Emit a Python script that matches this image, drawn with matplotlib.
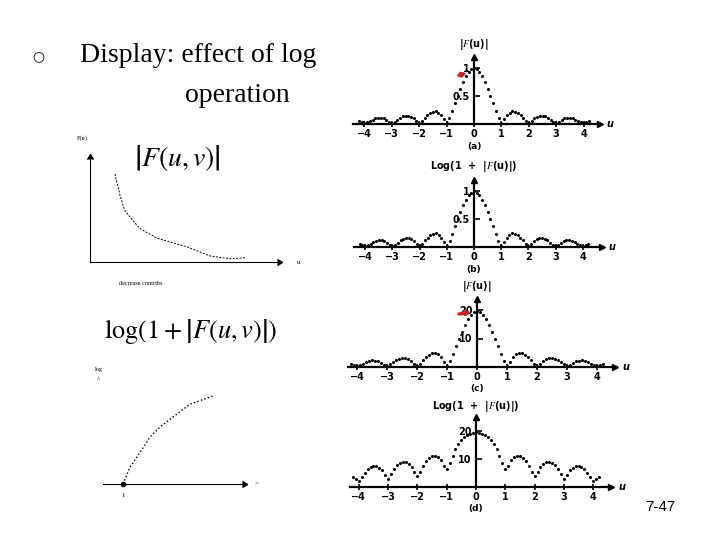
import matplotlib.pyplot as plt
import numpy as np

W, H = 720, 540

# sample positions (u = 0 .. 4.2) for the dotted spectra, mirrored for u < 0
u_half = np.round(np.arange(0, 4.25, 0.1), 1)

# (a) |F(u)|
fa_half = [1.0, 0.98, 0.93, 0.85, 0.75, 0.63, 0.50, 0.37, 0.24, 0.11, 0.01,
           0.09, 0.16, 0.20, 0.23, 0.22, 0.20, 0.16, 0.11, 0.06, 0.01,
           0.05, 0.10, 0.13, 0.15, 0.15, 0.14, 0.11, 0.08, 0.04, 0.01,
           0.04, 0.07, 0.10, 0.11, 0.11, 0.10, 0.08, 0.06, 0.03, 0.01,
           0.03, 0.05]
# (b) Log(1 + |F(u)|), normalised
fb_half = [1.0, 0.98, 0.93, 0.85, 0.75, 0.63, 0.50, 0.37, 0.24, 0.11, 0.01,
           0.09, 0.17, 0.22, 0.25, 0.24, 0.21, 0.17, 0.12, 0.06, 0.01,
           0.06, 0.11, 0.15, 0.17, 0.17, 0.15, 0.12, 0.08, 0.04, 0.01,
           0.04, 0.08, 0.11, 0.12, 0.12, 0.11, 0.09, 0.06, 0.03, 0.01,
           0.03, 0.05]
# (c) |F(u)|, peak 20
fc_half = [19.5, 19.2, 18.3, 16.8, 14.8, 12.4, 9.8, 7.2, 4.7, 2.2, 0.3,
           1.9, 3.4, 4.4, 4.9, 4.8, 4.3, 3.4, 2.4, 1.2, 0.3,
           1.1, 2.0, 2.7, 3.1, 3.2, 2.9, 2.4, 1.7, 0.9, 0.3,
           0.8, 1.5, 2.0, 2.2, 2.3, 2.1, 1.7, 1.2, 0.6, 0.3,
           0.6, 1.0]
# (d) Log(1 + |F(u)|), scaled
fd_half = [19.5, 19.4, 19.1, 18.6, 17.8, 16.8, 15.4, 13.6, 11.2, 8.5, 6.5,
           7.5, 9.5, 10.6, 11.0, 10.9, 10.3, 9.2, 7.6, 5.5, 4.0,
           5.3, 7.2, 8.3, 8.8, 8.9, 8.5, 7.7, 6.4, 4.5, 3.0,
           4.3, 5.9, 6.9, 7.4, 7.5, 7.1, 6.3, 5.0, 3.4, 2.0,
           2.8, 3.5]

# left sketches (normalised axes 0..1)
mag_x = [0.13, 0.156, 0.18, 0.22, 0.26, 0.35, 0.505, 0.625, 0.73, 0.81]
mag_y = [0.815, 0.62, 0.48, 0.39, 0.31, 0.22, 0.14, 0.056, 0.03, 0.04]
log_x = [0.139, 0.1875, 0.278, 0.326, 0.396, 0.486, 0.604, 0.764]
log_y = [0.0, 0.149, 0.316, 0.412, 0.5, 0.588, 0.70, 0.772]

u_ticks = [-4, -3, -2, -1, 0, 1, 2, 3, 4]


def mirror(half):
    half = np.asarray(half, dtype=float)
    return np.concatenate([half[:0:-1], half])


u_full = np.concatenate([-u_half[:0:-1], u_half])

fig = plt.figure(figsize=(W / 100, H / 100), dpi=100)
fig.patch.set_facecolor('white')
plt.rcParams['mathtext.fontset'] = 'stix'


def px_axes(left, top, width, height):
    return fig.add_axes([left / W, 1 - (top + height) / H, width / W, height / H])


def spectrum_panel(vals, x0, sx, y0, sy, xlo, xhi, ytop, yticks, ylabels,
                   title, tag, red_mark=None):
    # x0/y0: pixel of the origin, sx/sy: pixels per data unit
    left = x0 + xlo * sx
    width = (xhi - xlo) * sx
    height = ytop * sy
    ax = px_axes(left, y0 - height, width, height)
    ax.set_xlim(xlo, xhi)
    ax.set_ylim(0, ytop)
    ax.patch.set_alpha(0)
    for s in ['top', 'right']:
        ax.spines[s].set_visible(False)
    ax.spines['left'].set_position(('data', 0))
    ax.spines['bottom'].set_position(('data', 0))
    ax.spines['bottom'].set_linewidth(1.6)
    ax.spines['left'].set_linewidth(1.6)
    ax.set_xticks(u_ticks)
    ax.set_xticklabels([str(t).replace('-', '\u2212') for t in u_ticks],
                       fontsize=7, fontweight='bold', family='DejaVu Sans')
    ax.set_yticks(yticks)
    ax.set_yticklabels(ylabels, fontsize=7, fontweight='bold', family='DejaVu Sans')
    ax.tick_params(axis='x', direction='inout', length=5, width=1.2, pad=1)
    ax.tick_params(axis='y', direction='in', length=4, width=1.2, pad=3)
    ax.plot(1, 0, '>k', ms=5, transform=ax.get_yaxis_transform(), clip_on=False)
    ax.plot(0, 1, '^k', ms=5, transform=ax.get_xaxis_transform(), clip_on=False)
    ax.plot(u_full, mirror(vals), 'k.', ms=2.4, clip_on=False)
    ax.text(xhi + 0.25, 0, 'u', fontsize=7, fontweight='bold', style='italic',
            va='center', ha='left')
    ax.text(0, 80 / sy, title, fontsize=7, fontweight='bold',
            ha='center', va='center', family='DejaVu Sans')
    ax.text(0, -22 / sy, tag, fontsize=6.5, fontweight='bold',
            ha='center', va='center')
    if red_mark is not None:
        ax.annotate('', xy=red_mark[1], xytext=red_mark[0],
                    arrowprops=dict(arrowstyle='-|>', color='#c8202a', lw=2.4,
                                    mutation_scale=5, shrinkA=0, shrinkB=0))
    return ax


spectrum_panel(fa_half, 474, 27.4, 124, 56, -4.4, 4.6, 1.2, [0.5, 1], ['0.5', '1'],
               r'|$\mathbf{\mathit{F}}$(u)|', '(a)', red_mark=((-0.55, 0.87), (-0.25, 0.91)))
spectrum_panel(fb_half, 474, 27.2, 247, 55.6, -4.4, 4.7, 1.2, [0.5, 1], ['0.5', '1'],
               r'Log(1  +  |$\mathbf{\mathit{F}}$(u)|)', '(b)')
spectrum_panel(fc_half, 477, 30, 367, 2.85, -4.3, 4.6, 24, [10, 20], ['10', '20'],
               r'|$\mathbf{\mathit{F}}$(u)|', '(c)', red_mark=((-0.6, 18.6), (-0.18, 19.2)))
spectrum_panel(fd_half, 476, 29.3, 487, 2.8, -4.3, 4.6, 25, [10, 20], ['10', '20'],
               r'Log(1  +  |$\mathbf{\mathit{F}}$(u)|)', '(d)')

# top-left sketch
ax1 = px_axes(90, 154, 192, 108)
ax1.set_xlim(0, 1)
ax1.set_ylim(0, 1)
ax1.patch.set_alpha(0)
for s in ['top', 'right']:
    ax1.spines[s].set_visible(False)
for s in ['left', 'bottom']:
    ax1.spines[s].set_linewidth(0.8)
ax1.set_xticks([])
ax1.set_yticks([])
ax1.plot(1, 0, marker=5, color='k', ms=5, transform=ax1.transAxes, clip_on=False)
ax1.plot(0, 1, marker=6, color='k', ms=5, transform=ax1.transAxes, clip_on=False)
ax1.plot(mag_x, mag_y, 'k--', lw=0.7, dashes=(2, 1.5))
ax1.text(-0.07, 1.15, 'F(u)', fontsize=4.5, family='Liberation Serif', va='center')
ax1.text(1.08, 0.0, 'u', fontsize=5, family='Liberation Serif', va='center')
ax1.text(0.15, -0.2, 'decrease contribs', fontsize=4.5, family='Liberation Serif',
         va='center')

# bottom-left sketch
ax2 = px_axes(103, 370, 144, 114)
ax2.set_xlim(0, 1)
ax2.set_ylim(0, 1)
ax2.patch.set_alpha(0)
for s in ['top', 'right', 'left']:
    ax2.spines[s].set_visible(False)
ax2.spines['bottom'].set_linewidth(0.8)
ax2.set_xticks([])
ax2.set_yticks([])
ax2.plot(1, 0, marker=5, color='k', ms=5, transform=ax2.transAxes, clip_on=False)
ax2.plot(log_x, log_y, 'k:', lw=1.0)
ax2.plot(log_x[0], log_y[0], 'ko', ms=3, clip_on=False)
ax2.text(log_x[0], -0.1, '1', fontsize=5, family='Liberation Serif', ha='center', va='center')
ax2.text(1.05, 0.0, '>', fontsize=5, family='Liberation Serif', va='center')
ax2.text(-0.06, 1.0, 'log', fontsize=4.5, family='Liberation Serif', va='center')
ax2.text(-0.04, 0.92, '^', fontsize=5, family='Liberation Serif', va='center')

# slide text
fig.text(32 / W, 1 - 56 / H, '\u25cb', fontsize=10, family='DejaVu Sans', va='center')
fig.text(80 / W, 1 - 56 / H, 'Display: effect of log', fontsize=20,
         family='Liberation Serif', va='center')
fig.text(185 / W, 1 - 96 / H, 'operation', fontsize=20,
         family='Liberation Serif', va='center')
fig.text(134 / W, 1 - 158 / H, r'$\left|F(u,v)\right|$', fontsize=20, va='center')
fig.text(104 / W, 1 - 332 / H, r'$\log(1+\left|F(u,v)\right|)$', fontsize=19, va='center')
fig.text(645 / W, 1 - 507 / H, '7-47', fontsize=11, family='Liberation Sans', va='center')

fig.savefig('out.png', dpi=100)
